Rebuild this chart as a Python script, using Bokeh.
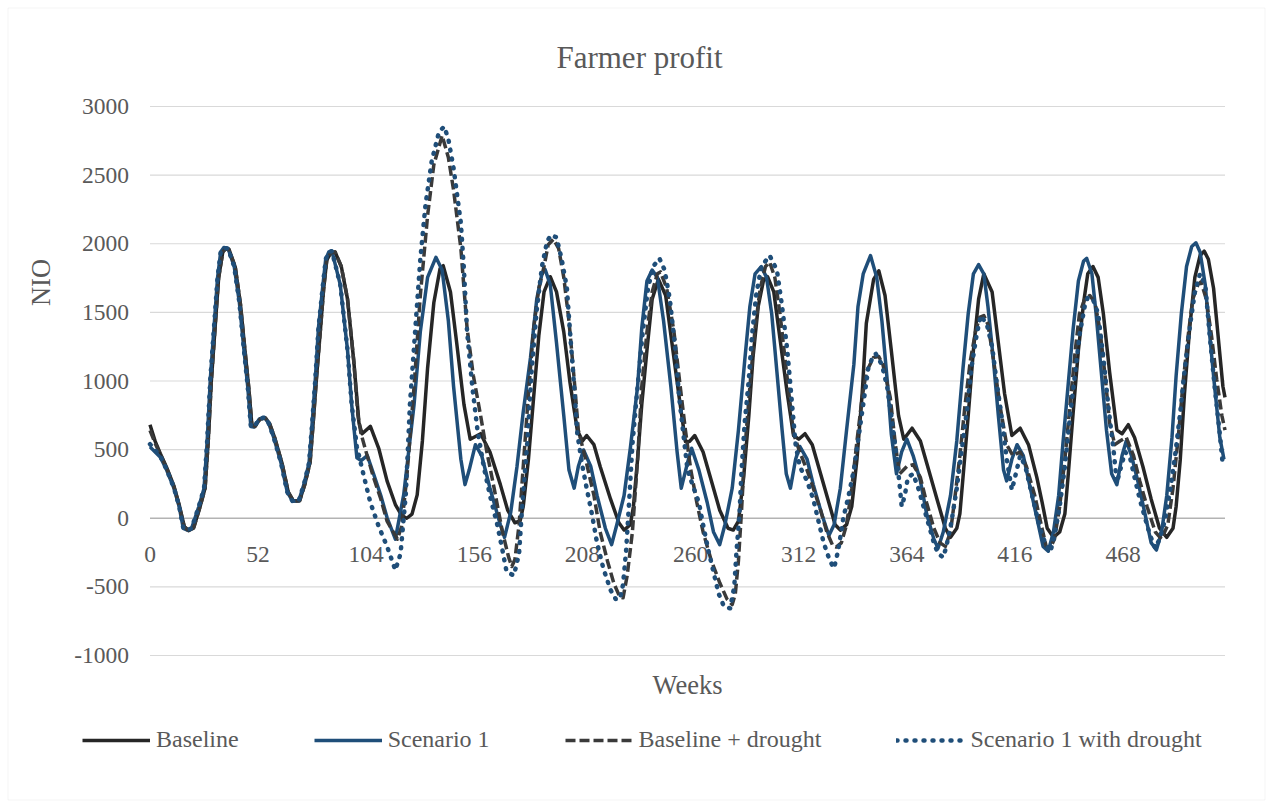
from bokeh.plotting import figure
from bokeh.models import Label, Legend, LegendItem, Range1d, BoxAnnotation
from bokeh.core.properties import value
from bokeh.embed import file_html
from bokeh.resources import INLINE
import math

# ---------------- data ----------------
title_text = "Farmer profit"
y_title = "NIO"
x_title = "Weeks"
x_tick_weeks = [0, 52, 104, 156, 208, 260, 312, 364, 416, 468]
x_tick_labels = ["0", "52", "104", "156", "208", "260", "312", "364", "416", "468"]
y_ticks = [-1000, -500, 0, 500, 1000, 1500, 2000, 2500, 3000]
y_tick_labels = ["-1000", "-500", "0", "500", "1000", "1500", "2000", "2500", "3000"]
last_week = 517
series_names = ["Baseline", "Scenario 1", "Baseline + drought", "Scenario 1 with drought"]

baseline_weeks = [0, 2.5, 5, 8, 11.5, 14, 16.5, 18.5, 21, 24, 26.5, 28, 29.5, 31.5, 33, 35, 36.5, 38, 41, 43.5,
                  45.5, 47.5, 49, 50.5, 53, 55.5, 57.5, 60, 63.5, 66.5, 69, 72, 74.5, 77, 78.5, 80, 82, 83.5, 85, 87,
                  89, 92, 95, 98, 100.5, 102, 106, 110, 114, 118, 121, 123.5, 126, 128.5, 131, 133.5, 136.5, 139.5, 141, 144.5,
                  147.5, 151, 154, 159, 163.5, 168.5, 172, 175.5, 178, 179.5, 182, 184.5, 187, 189.5, 192.5, 195.5, 199, 202, 205.5, 208,
                  210, 213.5, 216.5, 221.5, 225.5, 228, 231, 232.5, 234.5, 236.5, 239, 241.5, 244.5, 248, 251, 254.5, 257.5, 259.5, 262, 266,
                  270, 274, 278, 280.5, 283, 285.5, 288, 290, 292.5, 295, 297, 300, 303, 306.5, 309.5, 312, 315, 318.5, 322.5, 326.5,
                  329.5, 332, 335, 337.5, 340, 342.5, 344.5, 348, 350.5, 353.5, 356.5, 360, 362.5, 366.5, 370.5, 374.5, 378.5, 382.5, 385, 388,
                  389.5, 391, 393.5, 396, 398.5, 401, 405, 408, 411, 414.5, 418.5, 422.5, 426.5, 429, 431.5, 434.5, 437.5, 440, 441.5, 444,
                  446.5, 449, 451, 453.5, 456, 458.5, 461.5, 465, 467.5, 470.5, 473.5, 477.5, 481.5, 485.5, 489, 492, 493.5, 495.5, 497.5, 500,
                  502.5, 505, 507, 509, 511.5, 513.5, 516, 517]
baseline_vals = [682, 560, 470, 370, 235, 100, -60, -90, -70, 80, 220, 560, 1000, 1430, 1750, 1940, 1968, 1960, 1830, 1560,
                 1250, 950, 680, 670, 725, 730, 690, 585, 400, 190, 125, 130, 250, 410, 700, 1010, 1380, 1670, 1880, 1935,
                 1940, 1834, 1596, 1146, 695, 616, 669, 510, 272, 100, 20, 0, 30, 170, 563, 1093, 1570, 1820, 1840, 1649,
                 1278, 828, 576, 616, 483, 245, 60, -33, -20, 86, 430, 881, 1331, 1649, 1760, 1649, 1358, 987, 642, 563,
                 603, 536, 377, 139, -33, -86, -47, 86, 430, 828, 1225, 1596, 1742, 1623, 1278, 881, 560, 560, 603, 483,
                 272, 59, -73, -86, -21, 298, 748, 1172, 1543, 1729, 1760, 1649, 1305, 907, 603, 576, 616, 536, 324, 113,
                 -47, -86, -47, 86, 430, 907, 1420, 1740, 1803, 1623, 1225, 748, 576, 656, 563, 351, 139, -73, -139, -73,
                 33, 298, 748, 1225, 1596, 1781, 1649, 1278, 907, 603, 656, 536, 298, 120, -73, -139, -100, 33, 298, 775,
                 1225, 1570, 1781, 1834, 1755, 1490, 1066, 642, 616, 682, 589, 377, 139, -73, -139, -73, 86, 430, 907, 1384,
                 1755, 1914, 1946, 1887, 1676, 1358, 960, 881]

scen1_weeks = [0, 5, 8, 11.5, 14, 16, 18, 20, 23.5, 26, 27.5, 29, 31, 32.5, 34, 35.5, 37.5, 40.5, 43, 45,
               47, 48.5, 50, 52.5, 55, 57, 59.5, 63, 66, 68.5, 71.5, 74, 76.5, 78, 79.5, 81, 83, 84.5, 86, 87.5,
               91.5, 95, 97, 99.5, 101.5, 104.5, 107.5, 111, 114, 118, 122, 127, 130, 133.5, 137.5, 140.5, 143.5, 146, 149.5, 151.5,
               153.5, 156.5, 159.5, 163.5, 168.5, 170.5, 173.5, 176.5, 179.5, 183, 186, 188.5, 190, 192.5, 195.5, 199, 201.5, 204, 206, 208.5,
               212, 215, 219, 222, 224.5, 228, 231, 234.5, 236.5, 239, 241.5, 244, 247, 250.5, 253.5, 255.5, 258.5, 260.5, 264, 268,
               271, 274, 276.5, 280, 283, 286, 288.5, 291, 294, 296.5, 299, 301.5, 304, 306, 308, 310.5, 312.5, 316, 319, 323,
               326.5, 329, 332, 335, 338.5, 340.5, 343, 346.5, 349.5, 352, 354.5, 356.5, 359, 361.5, 364, 367, 370.5, 373.5, 377, 379,
               381.5, 385, 388, 391, 393.5, 396, 398.5, 401, 403, 405.5, 408, 410.5, 412, 414.5, 417, 420, 423, 426.5, 429.5, 432,
               434.5, 437, 439, 441.5, 444, 446.5, 449, 450.5, 453, 455, 457.5, 460, 462.5, 465, 467.5, 469.5, 472, 475.5, 478.5, 481.5,
               484, 486.5, 489, 491.5, 493.5, 496, 498.5, 501, 503, 505, 507.5, 509.5, 512, 514.5, 516.5]
scen1_vals = [520, 444, 351, 219, 86, -73, -86, -73, 86, 219, 563, 1013, 1437, 1755, 1940, 1972, 1967, 1834, 1570, 1252,
              960, 669, 664, 722, 735, 695, 589, 404, 192, 126, 126, 245, 404, 695, 1013, 1384, 1676, 1887, 1940, 1946,
              1702, 1225, 828, 440, 420, 457, 324, 166, 5, -152, 170, 828, 1358, 1755, 1901, 1808, 1437, 960, 430, 245,
              351, 536, 457, 219, -47, -139, 45, 377, 775, 1172, 1596, 1781, 1813, 1702, 1278, 748, 351, 219, 377, 497,
              377, 166, -73, -192, -47, 166, 510, 960, 1384, 1729, 1808, 1755, 1437, 960, 483, 219, 404, 510, 351, 113,
              -100, -192, -47, 219, 642, 1146, 1543, 1781, 1834, 1755, 1490, 1066, 642, 324, 219, 430, 523, 430, 245, 33,
              -126, -47, 219, 642, 1119, 1543, 1780, 1914, 1755, 1437, 1013, 616, 324, 483, 576, 457, 272, 33, -152, -219,
              -100, 166, 563, 1093, 1490, 1781, 1848, 1781, 1543, 1172, 748, 351, 272, 430, 536, 457, 245, 5, -205, -240,
              -100, 166, 536, 960, 1384, 1729, 1874, 1893, 1781, 1490, 1066, 642, 324, 245, 457, 563, 457, 245, 33, -179,
              -232, -100, 166, 589, 1040, 1490, 1834, 1980, 2007, 1940, 1702, 1358, 960, 589, 430]

drought_weeks = [0, 2.5, 5, 8, 11.5, 14, 16.5, 18.5, 21, 24, 26.5, 28, 29.5, 31.5, 33, 35, 36.5, 38, 41, 43.5,
                 45.5, 47.5, 49, 50.5, 53, 55.5, 57.5, 60, 63.5, 66.5, 69, 72, 74.5, 77, 78.5, 80, 82, 83.5, 85, 87,
                 89, 92, 95, 98, 100, 101.5, 104, 107.5, 111, 114, 119, 121, 123.5, 127, 130, 133.5, 136.5, 140.5, 143.5, 146,
                 149.5, 152.5, 155.5, 159, 162, 165.5, 169.5, 172.5, 174, 175.5, 177.5, 179.5, 182, 184.5, 187, 189.5, 191.5, 194, 196.5, 199,
                 201.5, 204, 206, 209.5, 213.5, 216.5, 220, 223, 226, 227.5, 229.5, 232, 234.5, 236.5, 239, 241.5, 244, 245.5, 248.5, 252,
                 255, 257.5, 260, 263, 266, 270, 274, 277.5, 280, 281.5, 283, 284.5, 286, 288.5, 291, 293.5, 296, 298, 300.5, 303,
                 306.5, 309.5, 312.5, 316, 319, 322.5, 325.5, 328.5, 330, 332.5, 335, 337.5, 340, 342.5, 344.5, 348, 350.5, 352.5, 356, 358.5,
                 360.5, 364, 367, 370.5, 373.5, 377, 380, 382.5, 385, 387, 389.5, 392, 394.5, 397, 399, 401, 403, 405.5, 409, 412,
                 415, 418.5, 421.5, 425.5, 429, 431, 433, 435, 437.5, 440, 442.5, 445, 447, 449.5, 452, 454.5, 457, 459.5, 461.5, 464,
                 466.5, 469.5, 473, 476, 479.5, 483.5, 486.5, 489.5, 492, 494.5, 497, 499.5, 501.5, 504, 505.5, 508, 510.5, 513, 515.5, 517]
drought_vals = [640, 545, 465, 365, 230, 95, -65, -90, -70, 80, 220, 560, 1000, 1430, 1750, 1940, 1965, 1955, 1830, 1560,
                1250, 950, 680, 668, 723, 730, 690, 585, 400, 190, 125, 128, 248, 408, 700, 1010, 1380, 1670, 1880, 1935,
                1940, 1834, 1596, 1146, 750, 616, 480, 298, 140, -21, -152, -60, 298, 960, 1623, 2205, 2576, 2788, 2629, 2391,
                1967, 1384, 1040, 748, 483, 219, -100, -285, -352, -300, -47, 377, 907, 1384, 1676, 1834, 1993, 2033, 1967, 1755,
                1437, 1013, 642, 430, 166, -100, -311, -470, -576, -580, -417, -100, 430, 960, 1358, 1649, 1781, 1795, 1676, 1358,
                960, 642, 360, 113, -100, -311, -470, -589, -629, -550, -311, 60, 483, 960, 1384, 1676, 1834, 1866, 1755, 1490,
                1013, 616, 483, 351, 219, 60, -100, -205, -210, -179, -47, 219, 563, 881, 1066, 1172, 1178, 1119, 881, 536,
                324, 377, 391, 298, 113, -73, -179, -205, -100, 139, 457, 828, 1146, 1358, 1464, 1477, 1411, 1172, 801, 536,
                457, 483, 377, 166, -73, -205, -215, -152, 86, 430, 828, 1225, 1490, 1596, 1623, 1570, 1358, 1013, 695, 536,
                563, 589, 457, 272, 86, -100, -152, -47, 219, 589, 1013, 1358, 1596, 1702, 1723, 1596, 1331, 1013, 748, 642]

scen1_drought_weeks = [0, 5, 8, 11.5, 14, 16, 18, 20, 23.5, 26, 27.5, 29, 31, 32.5, 34, 35.5, 37.5, 40.5, 43, 45,
                       47, 48.5, 50, 52.5, 55, 57, 59.5, 63, 66, 68.5, 71.5, 74, 76.5, 78, 79.5, 81, 83, 84.5, 86, 87.5,
                       91.5, 95, 97, 99.5, 100.5, 103, 106, 110, 114, 118, 120.5, 123, 125, 127.5, 130, 132.5, 135.5, 139, 141.5, 143.5,
                       146, 149.5, 151, 152.5, 155, 157.5, 160.5, 163.5, 167, 169.5, 171.5, 175, 177.5, 179, 181.5, 183.5, 186, 188.5, 191, 193,
                       195.5, 198, 200.5, 202, 204, 205.5, 208, 210, 212.5, 215, 218, 221.5, 224, 226, 227.5, 229, 230.5, 232, 234.5, 237,
                       239.5, 242, 245, 247.5, 250, 252.5, 254.5, 256.5, 258.5, 261.5, 264, 266, 268.5, 271, 273.5, 276, 279, 281, 282, 283.5,
                       284.5, 286, 288, 289.5, 291.5, 294, 298, 301.5, 304, 306.5, 308.5, 310.5, 312.5, 316, 319, 321.5, 324, 327, 329, 331,
                       333.5, 336, 338.5, 340.5, 343, 345.5, 347.5, 349, 352, 354.5, 356.5, 359, 360.5, 361.5, 363, 364.5, 367, 369.5, 372, 374.5,
                       377, 379, 381.5, 383, 385.5, 388, 390.5, 393, 395, 397.5, 399.5, 402.5, 405, 407, 409.5, 412, 414.5, 416, 418.5, 421,
                       423, 425.5, 428, 430.5, 433, 435, 437.5, 440, 442.5, 445, 447, 449.5, 451, 453.5, 456, 458.5, 461, 463.5, 465, 467.5,
                       469, 471.5, 473.5, 476, 478.5, 481, 483.5, 485.5, 488, 490.5, 493, 495.5, 497.5, 500, 502.5, 505, 507.5, 509.5, 512, 514.5,
                       516]
scen1_drought_vals = [540, 450, 355, 222, 88, -70, -88, -73, 86, 219, 563, 1013, 1437, 1755, 1940, 1970, 1965, 1834, 1570, 1252,
                      960, 669, 664, 722, 735, 695, 589, 404, 192, 126, 126, 245, 404, 695, 1013, 1384, 1676, 1887, 1940, 1946,
                      1702, 1225, 828, 520, 457, 298, 113, -60, -205, -378, -258, 170, 828, 1358, 1887, 2285, 2603, 2815, 2854, 2762,
                      2550, 2152, 1808, 1358, 960, 642, 377, 166, -47, -232, -391, -417, -258, 86, 563, 1066, 1517, 1834, 2020, 2065,
                      2046, 1887, 1676, 1358, 960, 616, 377, 219, 33, -179, -364, -523, -589, -589, -483, -232, 139, 536, 960, 1358,
                      1676, 1834, 1893, 1808, 1596, 1252, 881, 616, 351, 219, 113, -47, -232, -391, -550, -642, -656, -497, -258, 33,
                      351, 695, 1013, 1331, 1623, 1834, 1914, 1808, 1543, 1225, 881, 536, 377, 272, 139, -21, -179, -311, -364, -232,
                      7, 166, 351, 563, 828, 1100, 1170, 1199, 1119, 960, 748, 457, 245, 86, 166, 298, 324, 219, 86, -47,
                      -179, -258, -285, -205, -21, 219, 510, 801, 1093, 1331, 1477, 1411, 1252, 1013, 748, 430, 206, 298, 457, 377,
                      245, 86, -73, -180, -245, -126, 86, 377, 748, 1066, 1331, 1543, 1609, 1596, 1490, 1172, 801, 483, 258, 404,
                      483, 430, 298, 139, 5, -126, -219, -152, -21, 192, 457, 775, 1066, 1384, 1649, 1781, 1702, 1358, 960, 616,
                      377]

# ---------------- layout (pixels) and styling ----------------
FONT = "Liberation Serif"
TEXT_COLOR = "#595959"
W, H = 1272, 807
PLOT_LEFT, PLOT_RIGHT = 149.5, 1224.5      # pixel x of week 0 and of the last week
PLOT_TOP, PLOT_BOTTOM = 106.0, 655.0       # pixel y of 3000 and of -1000
px_per_week = (PLOT_RIGHT - PLOT_LEFT) / last_week
px_per_unit = (PLOT_BOTTOM - PLOT_TOP) / (y_ticks[-1] - y_ticks[0])


def wx(px):   # pixel x -> week
    return (px - PLOT_LEFT) / px_per_week


def vy(py):   # pixel y (from top) -> value
    return y_ticks[-1] - (py - PLOT_TOP) / px_per_unit


p = figure(width=W, height=H, x_range=Range1d(wx(0), wx(W)), y_range=Range1d(vy(H), vy(0)),
           output_backend="svg", toolbar_location=None, title=None,
           x_axis_location=None, y_axis_location=None, min_border=0)
p.outline_line_color = None
p.grid.visible = False
p.background_fill_color = "white"
p.border_fill_color = "white"

# chart-area border
p.add_layout(BoxAnnotation(left=wx(7.5), right=wx(1264.5), top=vy(7.5), bottom=vy(799.5),
                           fill_alpha=0, line_color="#d9d9d9", line_width=1, level="underlay"))

# horizontal gridlines over the category range
grid_colors = ["#b3b3b3" if t == 0 else "#d9d9d9" for t in y_ticks]
grid_widths = [1.6 if t == 0 else 1.2 for t in y_ticks]
p.segment(x0=[0] * len(y_ticks), x1=[last_week] * len(y_ticks), y0=y_ticks, y1=y_ticks,
          line_color=grid_colors, line_width=grid_widths)

# value axis labels
p.text(x=[wx(128.5)] * len(y_ticks), y=y_ticks, text=y_tick_labels, text_align="right",
       text_baseline="middle", text_font=value(FONT), text_font_size="23.5px", text_color=TEXT_COLOR)

# category axis labels, hanging below the zero line
p.text(x=x_tick_weeks, y=[0] * len(x_tick_weeks), text=x_tick_labels, text_align="center",
       text_baseline="alphabetic", y_offset=36, text_font=value(FONT), text_font_size="23.5px",
       text_color=TEXT_COLOR)

r_base = p.line(baseline_weeks, baseline_vals, line_color="#262626", line_width=3.5, line_join="round")
r_s1 = p.line(scen1_weeks, scen1_vals, line_color="#1f4e79", line_width=3.5, line_join="round")
r_bd = p.line(drought_weeks, drought_vals, line_color="#3a3a3a", line_width=3.5, line_dash="10 4",
              line_join="round")
r_sd = p.line(scen1_drought_weeks, scen1_drought_vals, line_color="#1f4e79", line_width=4.5,
              line_dash="1 8", line_cap="round", line_join="round")

# titles
p.add_layout(Label(x=wx(639), y=vy(57.3), text=title_text, text_align="center",
                   text_baseline="alphabetic", text_font=FONT, text_font_size="31px",
                   text_color=TEXT_COLOR))
p.add_layout(Label(x=wx((PLOT_LEFT + PLOT_RIGHT) / 2), y=vy(684), text=x_title, text_align="center",
                   text_baseline="alphabetic", text_font=FONT, text_font_size="26.5px",
                   text_color=TEXT_COLOR))
p.add_layout(Label(x=wx(40), y=vy(282), text=y_title, angle=math.pi / 2, text_align="center",
                   text_baseline="middle", text_font=FONT, text_font_size="26.5px",
                   text_color=TEXT_COLOR))

legend = Legend(items=[LegendItem(label=n, renderers=[r]) for n, r in
                       zip(series_names, [r_base, r_s1, r_bd, r_sd])],
                orientation="horizontal", location=(82, H - 753), spacing=75,
                glyph_width=68, glyph_height=24, label_height=24, label_standoff=6,
                padding=0, margin=0, border_line_color=None, background_fill_alpha=0,
                label_text_font=FONT, label_text_font_size="24px", label_text_color=TEXT_COLOR)
p.add_layout(legend)

open("out.html", "w").write(file_html(p, INLINE))
